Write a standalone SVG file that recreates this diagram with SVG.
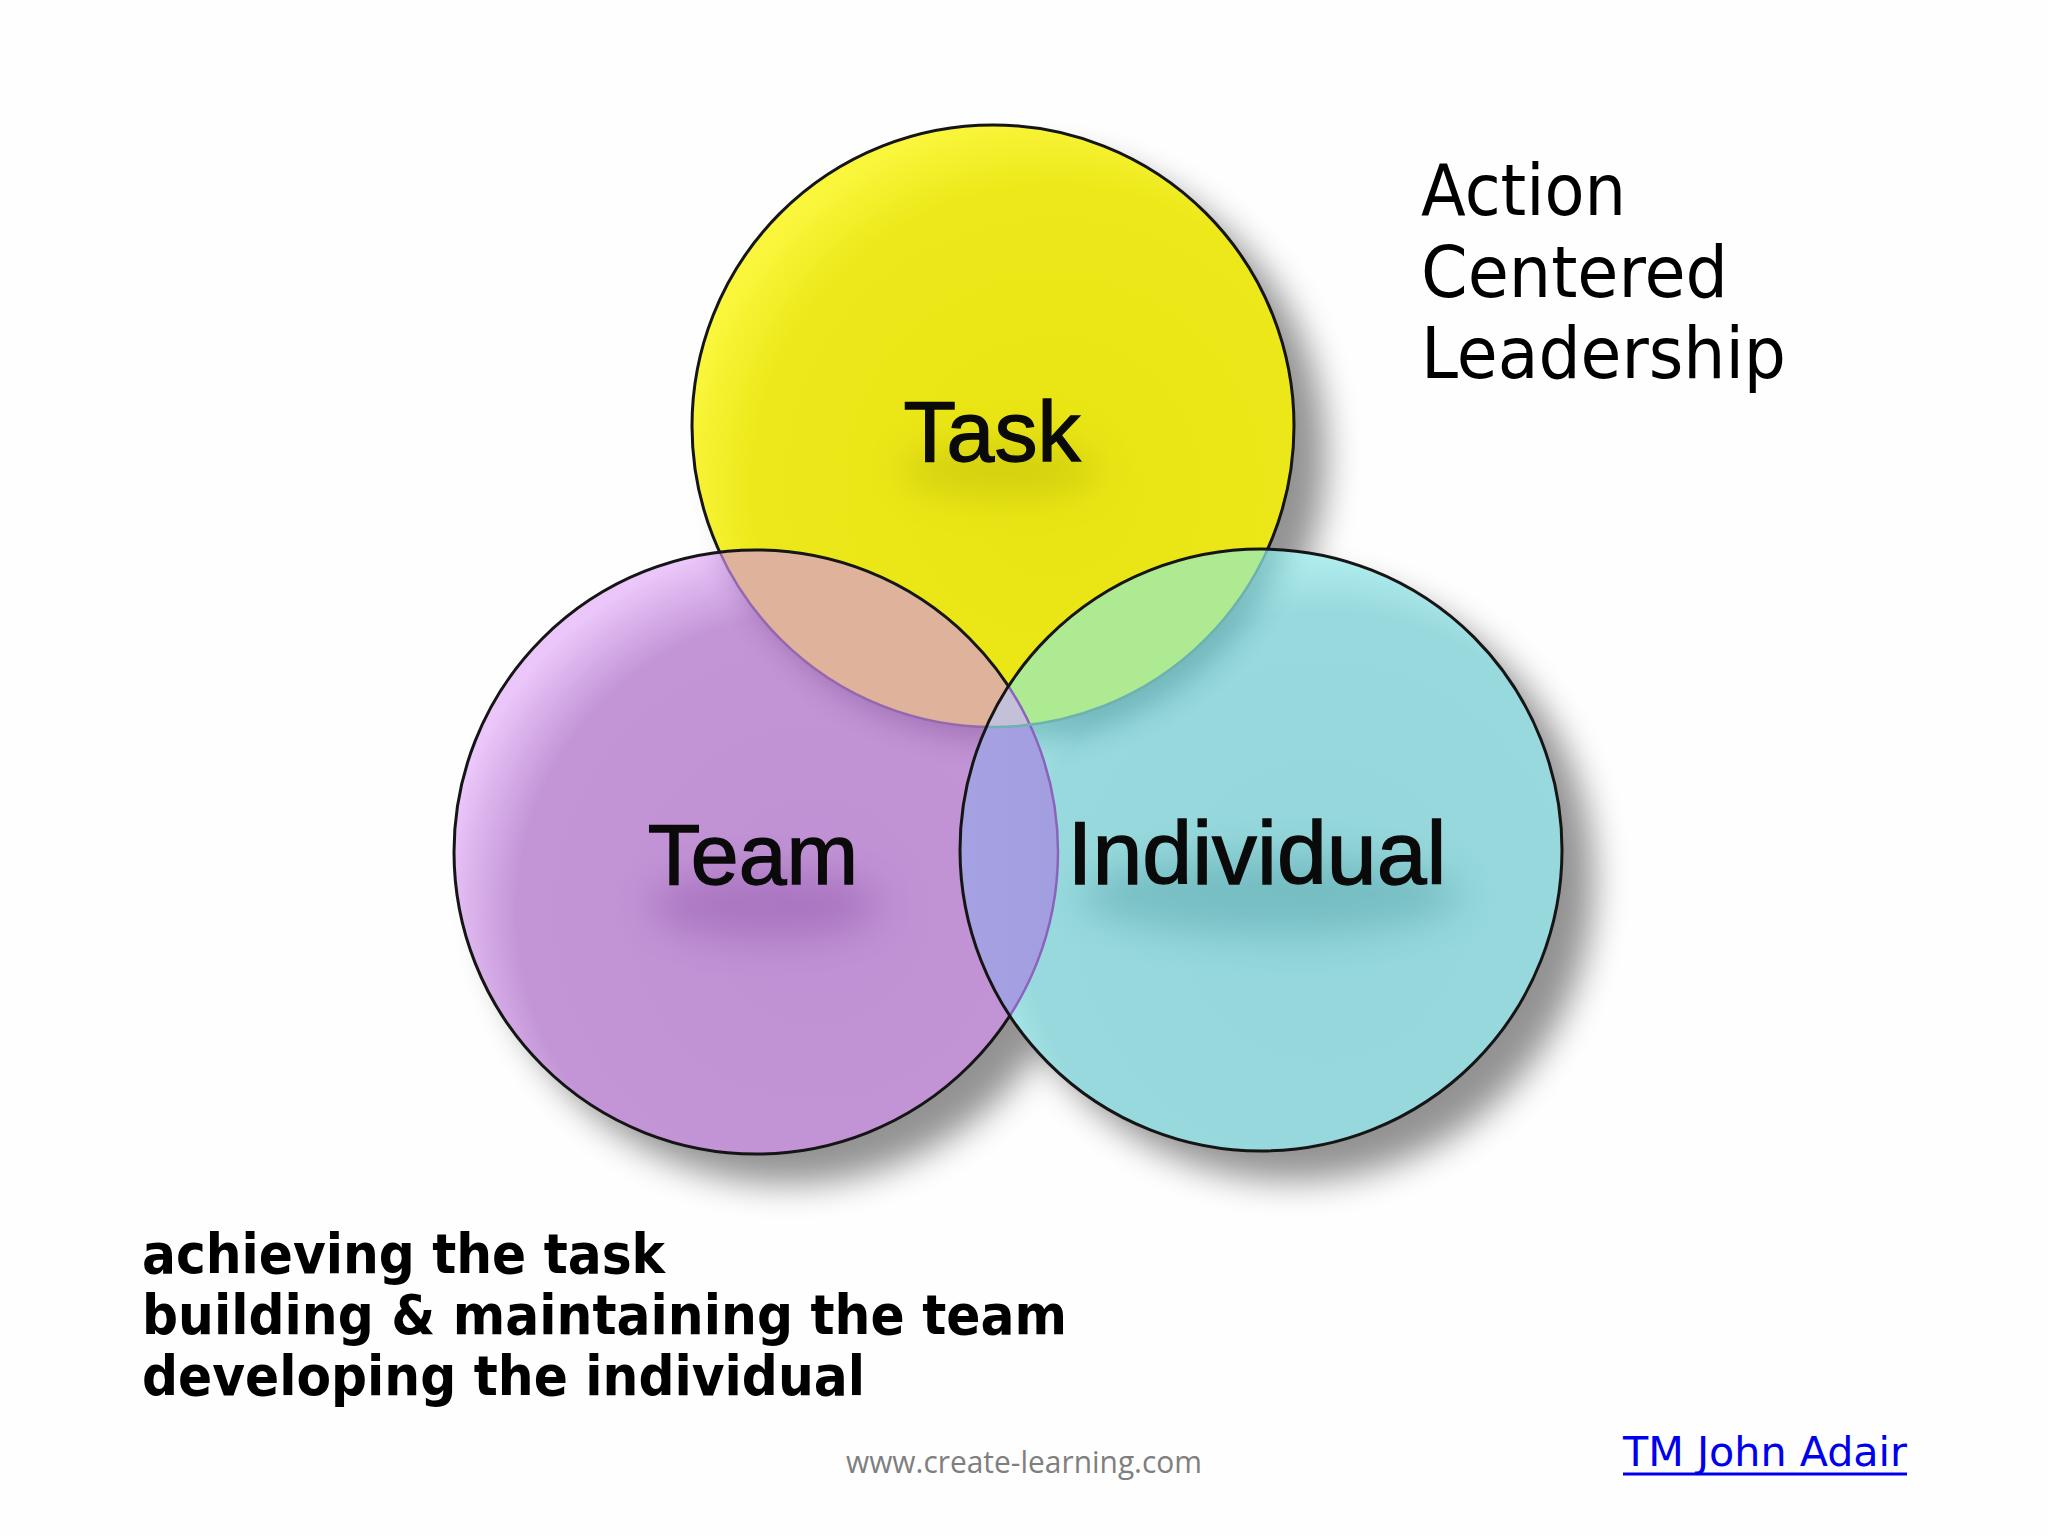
<svg xmlns="http://www.w3.org/2000/svg" width="2048" height="1536" viewBox="0 0 2048 1536">
<defs>
<style>
.lbl{font-family:"Liberation Sans",Arial,sans-serif;fill:#0a0a0a;stroke:#0a0a0a;stroke-width:1.4;}
.blob{filter:url(#tblur);}
.title{font-family:"DejaVu Sans",Verdana,sans-serif;font-size:72px;fill:#000;}
.bold{font-family:"DejaVu Sans","Liberation Sans",sans-serif;font-weight:bold;font-size:56px;fill:#000;}
.edge{fill:none;stroke:#151515;stroke-width:3;}
</style>
<filter id="shadow" x="-30%" y="-30%" width="160%" height="160%"><feGaussianBlur stdDeviation="17"/></filter>
<filter id="inner" x="-30%" y="-30%" width="160%" height="160%"><feGaussianBlur stdDeviation="14"/></filter>
<filter id="tblur" x="-50%" y="-100%" width="200%" height="300%"><feGaussianBlur stdDeviation="18"/></filter>
<radialGradient id="gTask" cx="0.6" cy="0.6" r="0.62">
<stop offset="0" stop-color="#E8E414"/><stop offset="0.8" stop-color="#ECE819"/><stop offset="1" stop-color="#FAF63C"/>
</radialGradient>
<radialGradient id="gTeam" cx="0.6" cy="0.6" r="0.62">
<stop offset="0" stop-color="#BF90D3"/><stop offset="0.8" stop-color="#C395D6"/><stop offset="1" stop-color="#EAC6FA"/>
</radialGradient>
<radialGradient id="gInd" cx="0.6" cy="0.6" r="0.62">
<stop offset="0" stop-color="#94D6DA"/><stop offset="0.8" stop-color="#98D9DD"/><stop offset="1" stop-color="#B8F4F4"/>
</radialGradient>
<linearGradient id="gLav" x1="0" y1="0" x2="1" y2="0">
<stop offset="0" stop-color="#B4B3F2"/><stop offset="1" stop-color="#A29EDF"/>
</linearGradient>
<clipPath id="cTask"><circle cx="993" cy="426" r="301"/></clipPath>
<clipPath id="cTeam"><circle cx="756" cy="852" r="302"/></clipPath>
<clipPath id="cInd"><circle cx="1261" cy="850" r="301"/></clipPath>
</defs>
<rect width="2048" height="1536" fill="#FEFEFE"/>
<g id="shadows" fill="#000" opacity="0.42" filter="url(#shadow)">
<circle cx="1025" cy="456" r="301"/>
<circle cx="788" cy="882" r="302"/>
<circle cx="1293" cy="880" r="301"/>
</g>
<g id="node-task">
<circle cx="993" cy="426" r="301" fill="url(#gTask)"/>
<circle class="edge" cx="993" cy="426" r="301"/>
<ellipse class="blob" cx="1000" cy="470" rx="100" ry="28" fill="#9a9500" opacity="0.25"/>
<text class="lbl" x="992" y="461" font-size="86" text-anchor="middle">Task</text>
</g>
<g id="node-team">
<circle cx="756" cy="852" r="302" fill="url(#gTeam)"/>
<g clip-path="url(#cTeam)">
<circle cx="1003" cy="440" r="301" fill="#5a2a70" opacity="0.28" filter="url(#inner)"/>
<circle cx="993" cy="426" r="301" fill="#DFB29B" stroke="#9468AE" stroke-width="2.5"/>
</g>
<circle class="edge" cx="756" cy="852" r="302"/>
<ellipse class="blob" cx="765" cy="905" rx="115" ry="35" fill="#7a3a98" opacity="0.3"/>
<text class="lbl" x="753" y="884" font-size="86" text-anchor="middle">Team</text>
</g>
<g id="node-individual">
<circle cx="1261" cy="850" r="301" fill="url(#gInd)"/>
<g clip-path="url(#cInd)">
<circle cx="1005" cy="442" r="301" fill="#1a6a70" opacity="0.3" filter="url(#inner)"/>
<circle cx="756" cy="852" r="302" fill="url(#gLav)"/>
<circle cx="993" cy="426" r="301" fill="#AEEA91"/>
<g clip-path="url(#cTeam)"><circle cx="993" cy="426" r="301" fill="#C4C0DA"/></g>
<circle cx="756" cy="852" r="302" fill="none" stroke="#8A63BC" stroke-width="2.5"/>
<circle cx="993" cy="426" r="301" fill="none" stroke="#6CB2B0" stroke-width="2.5"/>
</g>
<circle class="edge" cx="1261" cy="850" r="301"/>
<ellipse class="blob" cx="1270" cy="895" rx="190" ry="40" fill="#2a8088" opacity="0.28"/>
<text class="lbl" x="1257" y="884" font-size="89" text-anchor="middle" textLength="379" lengthAdjust="spacingAndGlyphs">Individual</text>
</g>
<g id="connectors"/>
<g id="title">
<text class="title" x="1421" y="215" textLength="205" lengthAdjust="spacingAndGlyphs">Action</text>
<text class="title" x="1421" y="297" textLength="307" lengthAdjust="spacingAndGlyphs">Centered</text>
<text class="title" x="1421" y="378" textLength="365" lengthAdjust="spacingAndGlyphs">Leadership</text>
</g>
<g id="description">
<text class="bold" x="142" y="1273" textLength="523" lengthAdjust="spacingAndGlyphs">achieving the task</text>
<text class="bold" x="142" y="1334" textLength="925" lengthAdjust="spacingAndGlyphs">building &amp; maintaining the team</text>
<text class="bold" x="142" y="1395" textLength="723" lengthAdjust="spacingAndGlyphs">developing the individual</text>
</g>
<g id="footer">
<text x="846" y="1473" font-family="'Open Sans','DejaVu Sans',sans-serif" font-size="31" fill="#7F7F7F" textLength="356" lengthAdjust="spacingAndGlyphs">www.create-learning.com</text>
<text x="1623" y="1466" font-family="'DejaVu Sans',sans-serif" font-size="41" fill="#0000EE" textLength="284" lengthAdjust="spacingAndGlyphs">TM John Adair</text>
<line x1="1623" y1="1474" x2="1907" y2="1474" stroke="#0000EE" stroke-width="3"/>
</g>
</svg>
